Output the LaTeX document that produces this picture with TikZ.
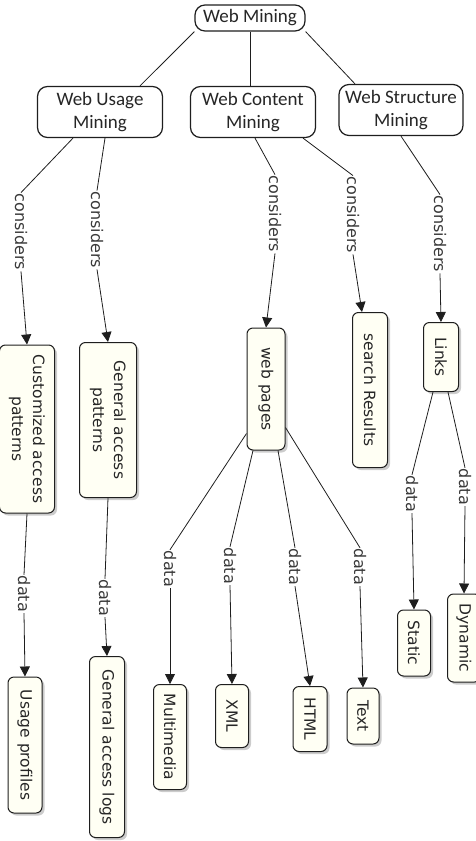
\documentclass[tikz,border=0pt]{standalone}
\usepackage{fontspec}
\setmainfont{DejaVu Sans}
\newfontfamily\topfont{Carlito}
\usetikzlibrary{arrows.meta,shadows}
\definecolor{MapLine}{HTML}{1E1E1E}
\definecolor{BoxFill}{HTML}{FFFFF4}
\definecolor{WordText}{HTML}{3A3A3A}

\begin{document}
\begin{tikzpicture}[x=1pt,y=-1pt,
    topbox/.style={draw=MapLine,line width=1.2pt,rounded corners=10pt,fill=white,align=center,inner sep=2pt,font=\topfont\fontsize{19}{23}\selectfont,text=black!85},
    conbox/.style={draw=MapLine,line width=1pt,rounded corners=6pt,fill=BoxFill,rotate=-90,align=center,inner sep=1pt,font=\fontsize{15.5}{21}\selectfont,text=black!85,drop shadow={shadow xshift=2.5pt,shadow yshift=-2.5pt,opacity=0.4}},
    linkword/.style={rotate=-90,inner sep=1pt,font=\fontsize{16}{18}\selectfont,text=WordText},
    maplink/.style={draw=MapLine,line width=0.8pt},
    arr/.style={maplink,-{Triangle[length=10pt,width=10pt]}}]
  \useasboundingbox (0,0) rectangle (475,841);

  % top of the map
  \node[topbox,minimum width=110pt,minimum height=26pt] (wm) at (250,18) {Web Mining};
  \node[topbox,minimum width=125pt,minimum height=51pt] (wum) at (100,112) {Web Usage\\Mining};
  \node[topbox,minimum width=125pt,minimum height=51pt] (wcm) at (253,112) {Web Content\\Mining};
  \node[topbox,minimum width=124pt,minimum height=51pt] (wsm) at (401,110) {Web Structure\\Mining};

  % concepts, turned on their side
  \node[conbox,minimum width=168pt,minimum height=55pt] (cap) at (27,429) {Customized access\\patterns};
  \node[conbox,minimum width=155pt,minimum height=57pt] (gap) at (108,420) {General access\\patterns};
  \foreach \n/\x/\y/\len/\wid/\txt in {wp/266/389/122/38/web pages, sr/370/390/155/35/search Results,
      lnk/441/357/69/35/Links, up/25/745/136/34/Usage profiles, gal/107/747/181/35/General access logs,
      mm/170/737/105/33/Multimedia, xml/232/716/63/33/XML, html/310/719/65/34/HTML,
      txt/363/716/56/32/Text, stat/414/643/66/33/Static, dyn/464/638/88/33/Dynamic}
    \node[conbox,minimum width=\len pt,minimum height=\wid pt] (\n) at (\x,\y) {\txt};

  % linking words
  \foreach \n/\x/\y in {c1/21/232, c2/97/230, c3/275/214, c4/353/215, c5/440/234}
    \node[linkword] (\n) at (\x,\y) {considers};
  \foreach \n/\x/\y in {d1/24/594, d2/105/598, d3/170/569, d4/230/566, d5/295/567, d6/360/567, d7/412/494, d8/465/487}
    \node[linkword] (\n) at (\x,\y) {data};

  \draw[maplink] (wm.south west) -- ([xshift=40pt]wum.north);
  \draw[maplink] (wm.south) -- (wm.south |- wcm.north);
  \draw[maplink] (wm.south east) -- ([xshift=-46pt]wsm.north);

  \draw[maplink] ([xshift=-27pt]wum.south) -- (c1.west);
  \draw[maplink] ([xshift=5pt]wum.south) -- (c2.west);
  \draw[maplink] ([xshift=2pt]wcm.south) -- (c3.west);
  \draw[maplink] ([xshift=50pt]wcm.south) -- (c4.west);
  \draw[maplink] (wsm.south) -- (c5.west);

  \draw[maplink] (cap.east) -- (d1.west);
  \draw[maplink] (gap.east) -- (d2.west);
  \draw[maplink] ([yshift=17pt]wp.south east) -- (d3.west);
  \draw[maplink] ([xshift=-13pt]wp.east) -- (d4.west);
  \draw[maplink] ([xshift=12pt]wp.east) -- (d5.west);
  \draw[maplink] ([yshift=23pt]wp.north east) -- (d6.west);
  \draw[maplink] ([xshift=-8pt]lnk.east) -- (d7.west);
  \draw[maplink] ([xshift=7pt]lnk.east) -- (d8.west);

  \foreach \a/\b in {c1/cap, c2/gap, c3/wp, c5/lnk, d1/up, d2/gal, d3/mm, d4/xml, d5/html, d6/txt, d7/stat, d8/dyn}
    \draw[arr] (\a.east) -- (\b.west);
  \draw[arr] (c4.east) -- ([xshift=-8pt]sr.west);
\end{tikzpicture}
\end{document}
